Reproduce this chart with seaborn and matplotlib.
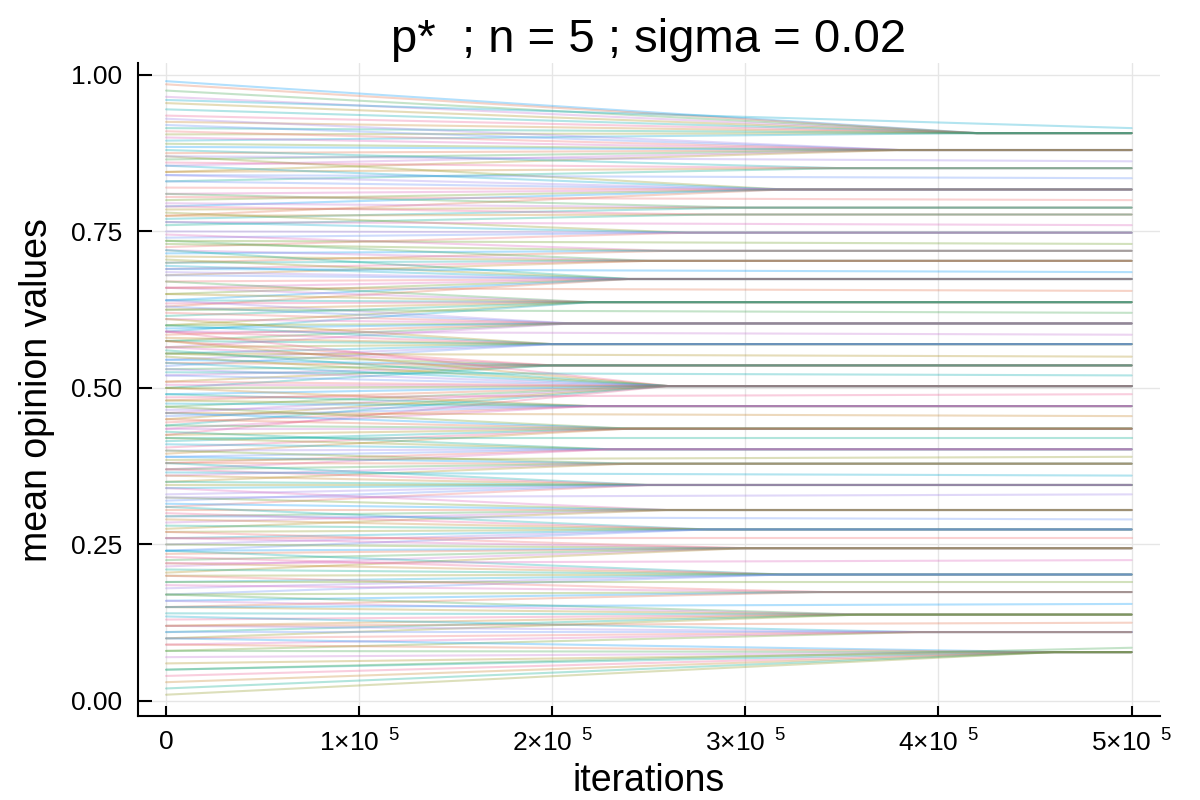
import pandas as pd
import seaborn as sns
import matplotlib.pyplot as plt

levels = [0.907, 0.880, 0.851, 0.817, 0.788, 0.777, 0.748, 0.719, 0.703, 0.674,
          0.637, 0.603, 0.570, 0.536, 0.503, 0.471, 0.435, 0.402, 0.379, 0.345,
          0.305, 0.274, 0.244, 0.202, 0.174, 0.138, 0.110, 0.078]

# iteration at which each cluster has merged
merge_at = [420000, 380000, 350000, 320000, 300000, 280000, 270000, 260000, 250000, 240000,
            220000, 210000, 200000, 200000, 260000, 220000, 240000, 230000, 240000, 250000,
            260000, 280000, 300000, 320000, 340000, 360000, 390000, 460000]

# starting mean opinions of the members of each cluster
starts = [
    [0.99, 0.985, 0.975, 0.965, 0.955, 0.945, 0.935, 0.925, 0.915, 0.905, 0.895],
    [0.93, 0.92, 0.91, 0.90, 0.89, 0.885, 0.875, 0.865, 0.855, 0.845],
    [0.88, 0.86, 0.845, 0.83],
    [0.87, 0.855, 0.84, 0.83, 0.82, 0.81, 0.80, 0.79, 0.775],
    [0.81, 0.795, 0.785, 0.77],
    [0.79, 0.775, 0.76],
    [0.78, 0.765, 0.75, 0.74, 0.725],
    [0.745, 0.73, 0.715, 0.70],
    [0.735, 0.72, 0.71, 0.70, 0.69, 0.68],
    [0.72, 0.705, 0.695, 0.685, 0.68, 0.67, 0.66, 0.65, 0.64, 0.63],
    [0.67, 0.66, 0.65, 0.64, 0.635, 0.625, 0.615, 0.60, 0.59],
    [0.64, 0.63, 0.62, 0.61, 0.60, 0.595, 0.585, 0.575, 0.565],
    [0.61, 0.60, 0.59, 0.58, 0.575, 0.565, 0.555, 0.545, 0.535],
    [0.575, 0.565, 0.555, 0.545, 0.54, 0.53, 0.52, 0.51, 0.50],
    [0.59, 0.575, 0.56, 0.55, 0.54, 0.53, 0.52, 0.51, 0.505, 0.50, 0.49, 0.48,
     0.47, 0.46, 0.45, 0.44, 0.425],
    [0.50, 0.49, 0.48, 0.475, 0.465, 0.455, 0.445, 0.435],
    [0.47, 0.46, 0.45, 0.44, 0.435, 0.425, 0.415, 0.405, 0.395],
    [0.43, 0.42, 0.41, 0.40, 0.39, 0.38, 0.37],
    [0.40, 0.39, 0.38, 0.37, 0.36, 0.35],
    [0.38, 0.37, 0.36, 0.35, 0.345, 0.34, 0.33, 0.32, 0.31],
    [0.34, 0.325, 0.315, 0.305, 0.295, 0.285, 0.275],
    [0.31, 0.30, 0.29, 0.28, 0.27, 0.26, 0.25, 0.24],
    [0.27, 0.26, 0.25, 0.24, 0.235, 0.225, 0.215, 0.205],
    [0.24, 0.23, 0.22, 0.21, 0.20, 0.19, 0.18, 0.17],
    [0.20, 0.185, 0.17, 0.16, 0.15],
    [0.17, 0.16, 0.15, 0.14, 0.13, 0.12, 0.11, 0.10],
    [0.135, 0.12, 0.11, 0.10, 0.09, 0.08],
    [0.10, 0.09, 0.08, 0.07, 0.06, 0.05, 0.04, 0.03, 0.02, 0.01],
]

# lone agents that never join a cluster: start and end values
loner_start = [0.96, 0.87, 0.84, 0.805, 0.765, 0.735, 0.69, 0.66, 0.625, 0.59, 0.555,
               0.525, 0.485, 0.46, 0.42, 0.385, 0.365, 0.325, 0.295, 0.26, 0.22,
               0.19, 0.15, 0.12, 0.05]
loner_end = [0.915, 0.862, 0.835, 0.80, 0.76, 0.73, 0.685, 0.655, 0.62, 0.585, 0.55,
             0.52, 0.49, 0.455, 0.42, 0.39, 0.36, 0.33, 0.29, 0.26, 0.225,
             0.19, 0.155, 0.125, 0.085]

last_iter = 500000

julia_colors = ['#009AFA', '#E36F47', '#3EA44E', '#C371D2', '#AC8E18', '#00A9AD',
                '#ED5E93', '#C68225', '#00A98E', '#8E971E', '#00A6CD', '#9B7FE9',
                '#618DF6', '#F16C6C', '#DC63BC', '#6B9D24']

rows = []
k = 0
for lev, t, members in zip(levels, merge_at, starts):
    for s in members:
        name = 'a%d' % k
        rows += [(name, 0, s), (name, t, lev), (name, last_iter, lev)]
        k += 1
for s, e in zip(loner_start, loner_end):
    name = 'a%d' % k
    rows += [(name, 0, s), (name, last_iter, e)]
    k += 1

df = pd.DataFrame(rows, columns=['agent', 'iteration', 'opinion'])
names = list(dict.fromkeys(df['agent']))
pal = {n: julia_colors[i % len(julia_colors)] for i, n in enumerate(names)}

sns.set_theme(style='white')
plt.rcParams['font.family'] = ['Liberation Sans', 'DejaVu Sans']
plt.rcParams['mathtext.fontset'] = 'custom'
plt.rcParams['mathtext.rm'] = 'Liberation Sans'
plt.rcParams['text.color'] = 'black'
plt.rcParams['axes.labelcolor'] = 'black'
plt.rcParams['xtick.color'] = 'black'
plt.rcParams['ytick.color'] = 'black'

fig = plt.figure(figsize=(12, 8), dpi=100)
ax = fig.add_axes([0.1148, 0.105, 0.852, 0.816])

sns.lineplot(data=df, x='iteration', y='opinion', hue='agent', hue_order=names,
             palette=pal, estimator=None, sort=False, legend=False,
             linewidth=1.5, alpha=0.3, ax=ax)

ax.set_xlim(-14650, 514800)
ax.set_ylim(-0.024, 1.0187)
ax.set_xticks([0, 100000, 200000, 300000, 400000, 500000])
ax.set_xticklabels(['0'] + [r'$\mathregular{%d{\times}10^{\;\;5}}$' % i for i in range(1, 6)])
ax.set_yticks([0, 0.25, 0.5, 0.75, 1.0])
ax.set_yticklabels(['0.00', '0.25', '0.50', '0.75', '1.00'])

ax.grid(True, color='#e6e6e6', linewidth=1)
for side in ['top', 'right']:
    ax.spines[side].set_visible(False)
for side in ['left', 'bottom']:
    ax.spines[side].set_color('black')
    ax.spines[side].set_linewidth(1.5)
ax.tick_params(axis='y', direction='in', length=10, width=1.5,
               labelsize=19, pad=11, left=True)
ax.tick_params(axis='x', direction='in', length=7, width=1.5,
               labelsize=19, pad=10, bottom=True)

ax.set_title('p*  ; n = 5 ; sigma = 0.02', fontsize=34, pad=8)
ax.set_xlabel('iterations', fontsize=27, labelpad=4)
ax.set_ylabel('mean opinion values', fontsize=27, labelpad=12)

fig.savefig('out.png', dpi=100)
